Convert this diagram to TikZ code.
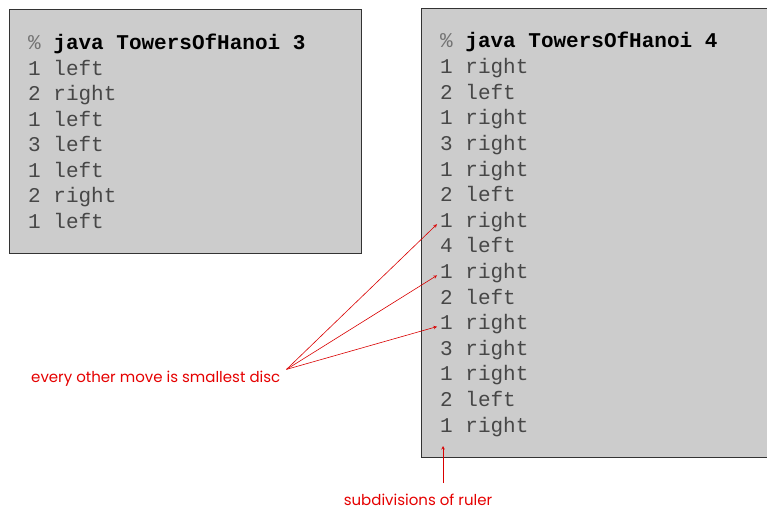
\documentclass[tikz,border=0pt]{standalone}
\usepackage{fontspec}
\setmonofont{Liberation Mono}
\newfontfamily\notefont{Poppins}
\usetikzlibrary{positioning, arrows, calc}
\tikzset{>=stealth}

\begin{document}
\begin{tikzpicture}[
    x=1pt, y=-1pt,
    screen/.style={draw=black!80, line width=1.3pt, fill=black!20,
                   anchor=north west, inner sep=0pt},
    movetxt/.style={anchor=base west, inner sep=0pt,
                    font=\ttfamily\fontsize{21}{21}\selectfont, text=black!72},
    note/.style={text=red!90!black, inner sep=1pt,
                 font=\notefont\fontsize{15}{15}\selectfont},
    pointer/.style={->, red!85!black, line width=0.6pt},
  ]
  \clip (0,0) rectangle (767,511);
  % the two console windows
  \node[screen, minimum width=352pt, minimum height=244pt] (small) at (9,9) {};
  \node[screen, minimum width=360pt, minimum height=449pt] (big) at (421,8) {};

  % n = 3
  \node[movetxt] (s0) at (28,49.5)
    {\textcolor{black!55}{\%}~\textcolor{black}{\textbf{java TowersOfHanoi 3}}};
  \foreach \txt [count=\i] in {1 left, 2 right, 1 left, 3 left,
                                1 left, 2 right, 1 left}
    \node[movetxt] (s\i) at (28,49.5+25.5*\i) {\txt};

  % n = 4
  \node[movetxt] (b0) at (440,48)
    {\textcolor{black!55}{\%}~\textcolor{black}{\textbf{java TowersOfHanoi 4}}};
  \foreach \txt [count=\i] in {1 right, 2 left, 1 right, 3 right, 1 right,
                                2 left, 1 right, 4 left, 1 right, 2 left,
                                1 right, 3 right, 1 right, 2 left, 1 right}
    \node[movetxt] (b\i) at (440,48+25.6*\i) {\txt};

  % notes
  \node[note, anchor=base west] (smallest) at (30,382)
    {every other move is smallest disc};
  \node[note] (ruler) at (418,500) {subdivisions of ruler};

  \coordinate (fan) at ($(smallest.north east)+(5,0)$);
  \foreach \k in {7,9,11}
    \draw[pointer] (fan) -- ([xshift=-3pt, yshift=3pt]b\k.base west);
  \draw[pointer] ([xshift=3pt, yshift=10pt]ruler.north -| b15.base west)
    -- ([xshift=3pt, yshift=-14pt]b15.base west);
\end{tikzpicture}
\end{document}
